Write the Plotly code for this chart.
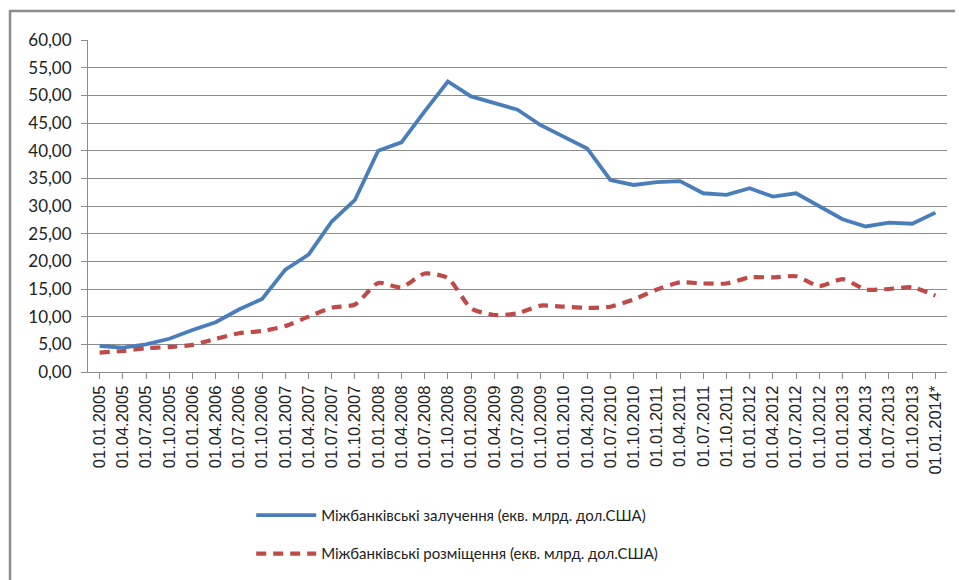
import plotly.graph_objects as go

# quarterly dates
dates = [
    "01.01.2005", "01.04.2005", "01.07.2005", "01.10.2005",
    "01.01.2006", "01.04.2006", "01.07.2006", "01.10.2006",
    "01.01.2007", "01.04.2007", "01.07.2007", "01.10.2007",
    "01.01.2008", "01.04.2008", "01.07.2008", "01.10.2008",
    "01.01.2009", "01.04.2009", "01.07.2009", "01.10.2009",
    "01.01.2010", "01.04.2010", "01.07.2010", "01.10.2010",
    "01.01.2011", "01.04.2011", "01.07.2011", "01.10.2011",
    "01.01.2012", "01.04.2012", "01.07.2012", "01.10.2012",
    "01.01.2013", "01.04.2013", "01.07.2013", "01.10.2013",
    "01.01.2014*",
]

# interbank borrowings, bn USD equiv.
borrowed = [
    4.7, 4.4, 5.0, 6.0, 7.6, 9.0, 11.3, 13.2,
    18.5, 21.2, 27.2, 31.1, 40.0, 41.5, 47.1, 52.5,
    49.8, 48.6, 47.4, 44.6, 42.5, 40.4, 34.7, 33.8,
    34.3, 34.5, 32.3, 32.0, 33.2, 31.7, 32.3, 29.9,
    27.6, 26.3, 27.0, 26.8, 28.8,
]

# interbank placements, bn USD equiv.
placed = [
    3.5, 3.8, 4.3, 4.5, 4.9, 6.0, 7.0, 7.4,
    8.3, 10.0, 11.6, 12.2, 16.1, 15.3, 17.8, 17.0,
    11.5, 10.3, 10.6, 12.0, 11.8, 11.6, 11.8, 13.1,
    14.9, 16.2, 16.0, 16.0, 17.1, 17.1, 17.3, 15.5,
    16.8, 14.9, 15.0, 15.3, 13.8,
]

name_b = "Міжбанківські залучення (екв. млрд. дол.США)"
name_p = "Міжбанківські розміщення (екв. млрд. дол.США)"

fig = go.Figure()
fig.add_trace(go.Scatter(
    x=dates, y=borrowed, name=name_b, mode="lines",
    line=dict(color="#4A7EBB", width=3.8),
    legendgroup="a",
))
fig.add_trace(go.Scatter(
    x=dates, y=placed, name=name_p, mode="lines",
    line=dict(color="#BE4B48", width=4.2, dash="10px,7px", shape="spline", smoothing=0.6),
    legendgroup="b",
))

# outer chart frame
fig.add_shape(type="rect", xref="paper", yref="paper",
              x0=-0.0908, x1=1.05, y0=-0.7, y1=1.087,
              line=dict(color="#8C8C8C", width=2.5), layer="below")

# page has 8px body margin, so margins are shifted by that
fig.update_layout(
    width=963, height=580,
    margin=dict(l=80, r=24, t=32, b=216),
    paper_bgcolor="white", plot_bgcolor="white",
    font=dict(family="Liberation Sans, Arial", color="#222222"),
    separators=", ",
    showlegend=True,
    legend=dict(
        x=0.19, xanchor="left", y=-0.382, yanchor="top",
        font=dict(family="Lato, Open Sans", size=15, color="#222222"),
        tracegroupgap=16, itemwidth=60,
    ),
    xaxis=dict(
        type="category", tickangle=-90,
        tickfont=dict(family="Liberation Sans, Arial", size=16.5, color="#222222"),
        showgrid=False, showline=True, linecolor="#8C8C8C", linewidth=1,
        ticks="outside", ticklen=6, tickcolor="#8C8C8C",
        range=[-0.5, len(dates) - 0.5],
    ),
    yaxis=dict(
        range=[0, 60], dtick=5, tickformat=".2f",
        tickfont=dict(family="Lato, Open Sans", size=17, color="#222222"),
        ticklabelstandoff=6,
        showgrid=True, gridcolor="#8C8C8C", gridwidth=1,
        showline=True, linecolor="#8C8C8C", linewidth=1,
        ticks="outside", ticklen=6, tickcolor="#8C8C8C",
        zeroline=False,
    ),
)

fig.write_html("out.html")
